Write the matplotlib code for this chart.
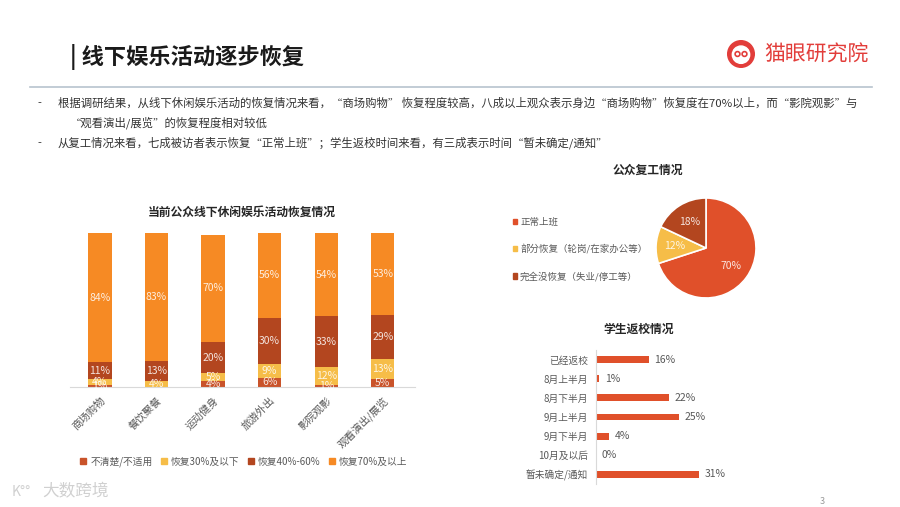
import matplotlib
matplotlib.use("Agg")
import matplotlib.pyplot as plt
from matplotlib.patches import Circle, Patch
import numpy as np

plt.rcParams['font.family'] = ['Noto Sans CJK SC', 'DejaVu Sans']

# ---------------- data ----------------
activities = ["商场购物", "餐饮聚餐", "运动健身", "旅游外出", "影院观影", "观看演出/展览"]
series_names = ["不清楚/不适用", "恢复30%及以下", "恢复40%-60%", "恢复70%及以上"]
unclear = [1, 0, 4, 6, 1, 5]
low = [4, 4, 5, 9, 12, 13]
mid = [11, 13, 20, 30, 33, 29]
high = [84, 83, 70, 56, 54, 53]

work_labels = ["正常上班", "部分恢复（轮岗/在家办公等）", "完全没恢复（失业/停工等）"]
work_values = [70, 12, 18]

school_labels = ["已经返校", "8月上半月", "8月下半月", "9月上半月", "9月下半月", "10月及以后", "暂未确定/通知"]
school_values = [16, 1, 22, 25, 4, 0, 31]

bullets = [
    "根据调研结果，从线下休闲娱乐活动的恢复情况来看，“商场购物” 恢复程度较高，八成以上观众表示身边“商场购物”恢复度在70%以上，而“影院观影”与",
    "“观看演出/展览”的恢复程度相对较低",
    "从复工情况来看，七成被访者表示恢复“正常上班”；学生返校时间来看，有三成表示时间“暂未确定/通知”",
]

# ---------------- style ----------------
W, H = 900, 507
fig = plt.figure(figsize=(9, 5.07), dpi=100)
fig.patch.set_facecolor('white')

def fx(x):
    return x / W

def fy(y):
    return 1 - y / H

def px_axes(x0, y0, x1, y1):
    return fig.add_axes([fx(x0), fy(y1), (x1 - x0) / W, (y1 - y0) / H])

c_unclear = '#C9532A'
c_low = '#F6BD48'
c_mid = '#B3461F'
c_high = '#F68A24'
c_red = '#E0502A'
gray = '#595959'

# ---------------- header ----------------
fig.text(fx(70), fy(57), "| 线下娱乐活动逐步恢复", fontsize=16, fontweight='bold',
         color='#1a1a1a', va='center', ha='left')
fig.add_artist(plt.Line2D([fx(30), fx(872)], [fy(87), fy(87)], color='#B8C4CE', lw=1.2))

# logo
lx, ly = 741, 54
logo_ax = px_axes(lx - 14, ly - 14, lx + 14, ly + 14)
logo_ax.set_xlim(-1, 1); logo_ax.set_ylim(-1, 1); logo_ax.axis('off')
logo_ax.add_patch(Circle((0, 0), 0.95, color='#E23D3A'))
logo_ax.add_patch(Circle((0, -0.05), 0.62, color='white'))
logo_ax.add_patch(Circle((-0.25, 0.0), 0.17, fill=False, ec='#E23D3A', lw=1.2))
logo_ax.add_patch(Circle((0.25, 0.0), 0.17, fill=False, ec='#E23D3A', lw=1.2))
fig.text(fx(764), fy(55), "猫眼研究院", fontsize=15, color='#E23D3A', va='center', ha='left')

# bullets
for y, t, dash, x0 in [(103, bullets[0], True, 58), (123, bullets[1], False, 70),
                        (143, bullets[2], True, 58)]:
    if dash:
        fig.text(fx(37), fy(y), "-", fontsize=8, color='#333333', va='center')
    fig.text(fx(x0), fy(y), t, fontsize=8.2, color='#333333', va='center', ha='left')

# ---------------- stacked bar chart ----------------
ax = px_axes(70, 233, 415, 387)
x = np.arange(len(activities))
bw = 0.41
stack = [unclear, low, mid, high]
colors = [c_unclear, c_low, c_mid, c_high]
bottom = np.zeros(len(activities))
for vals, col, name in zip(stack, colors, series_names):
    vals = np.array(vals, dtype=float)
    ax.bar(x, vals, bw, bottom=bottom, color=col, label=name, zorder=2)
    for xi, v, b in zip(x, vals, bottom):
        if v > 0:
            ax.text(xi, b + v / 2, f"{int(v)}%", ha='center', va='center',
                    fontsize=7.5, color='white', alpha=0.85, zorder=3)
    bottom += vals
ax.set_xlim(-0.53, 5.57)
ax.set_ylim(0, 100)
for s in ['top', 'right', 'left']:
    ax.spines[s].set_visible(False)
ax.spines['bottom'].set_color('#D9D9D9')
ax.set_yticks([])
ax.set_xticks(x)
ax.set_xticklabels(activities, rotation=45, ha='right', rotation_mode='anchor',
                   fontsize=7.5, color=gray)
ax.tick_params(axis='x', length=0, pad=6)
fig.text(fx(242), fy(212), "当前公众线下休闲娱乐活动恢复情况", fontsize=8.5,
         fontweight='bold', color='#262626', ha='center', va='center')
handles = [Patch(color=c) for c in colors]
fig.legend(handles, series_names, loc='center', bbox_to_anchor=(fx(244), fy(462)),
           ncol=4, frameon=False, fontsize=7, labelcolor=gray,
           handlelength=0.6, handleheight=0.6, handletextpad=0.4, columnspacing=0.9)

# ---------------- pie ----------------
pcx, pcy, r = 706, 248, 50
pax = px_axes(pcx - r, pcy - r, pcx + r, pcy + r)
wedges, texts, autotexts = pax.pie(
    work_values, colors=[c_red, c_low, c_mid], startangle=90, counterclock=False,
    radius=1, autopct=lambda p: f"{p:.0f}%", pctdistance=0.62,
    wedgeprops=dict(edgecolor='white', linewidth=1.2),
    textprops=dict(color='white', fontsize=7.5))
for t in autotexts:
    t.set_alpha(0.85)
pax.set_xlim(-1, 1); pax.set_ylim(-1, 1)
pax.set_aspect('auto')
fig.text(fx(648), fy(170), "公众复工情况", fontsize=8.5, fontweight='bold',
         color='#262626', ha='center', va='center')
fig.legend([Patch(color=c) for c in [c_red, c_low, c_mid]], work_labels,
           loc='upper left', bbox_to_anchor=(fx(504), fy(209)), frameon=False,
           fontsize=6.8, labelcolor=gray, handlelength=0.5, handleheight=0.5,
           handletextpad=0.3, labelspacing=1.85)

# ---------------- horizontal bar ----------------
hax = px_axes(596, 350, 729, 484)
y = np.arange(len(school_labels))
hax.barh(y, school_values, 0.36, color=c_red, zorder=2)
for yi, v in zip(y, school_values):
    hax.text(v + 1.6, yi, f"{v}%", va='center', ha='left', fontsize=7.5, color=gray)
hax.set_xlim(0, 40)
hax.set_ylim(6.5, -0.5)
for s in ['top', 'right', 'bottom']:
    hax.spines[s].set_visible(False)
hax.spines['left'].set_color('#D9D9D9')
hax.set_xticks([])
hax.set_yticks(y)
hax.set_yticklabels(school_labels, fontsize=7, color=gray)
hax.tick_params(axis='y', length=0, pad=6)
fig.text(fx(639), fy(329), "学生返校情况", fontsize=8.5, fontweight='bold',
         color='#262626', ha='center', va='center')

# ---------------- footer ----------------
fig.text(fx(12), fy(492), "K°°", fontsize=10, color='#D0D0D0', va='center', ha='left')
fig.text(fx(42), fy(492), "大数跨境", fontsize=12, color='#D0D0D0', va='center', ha='left')
fig.text(fx(822), fy(502), "3", fontsize=6.5, color='#999999', va='center', ha='center')

fig.savefig("out.png", dpi=100, facecolor='white')
